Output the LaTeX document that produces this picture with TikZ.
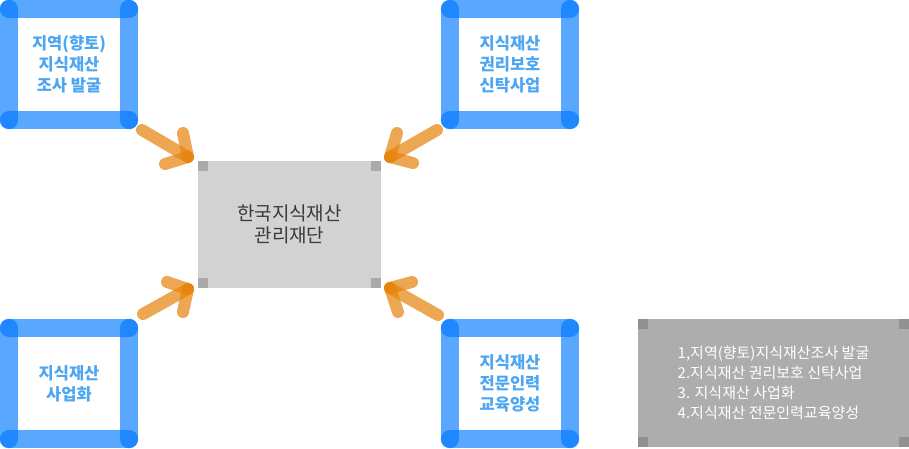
\documentclass[tikz,border=0pt]{standalone}
\usepackage{fontspec}
\newfontfamily\kr{Noto Sans CJK KR}
\definecolor{frameblue}{RGB}{0,120,255}
\definecolor{arroworange}{RGB}{230,130,10}
\definecolor{labelblue}{RGB}{76,166,242}
\definecolor{hubgray}{RGB}{210,210,210}
\definecolor{hubtab}{RGB}{170,170,170}
\definecolor{notegray}{RGB}{173,173,173}
\definecolor{notetab}{RGB}{145,145,145}
\definecolor{hubtext}{RGB}{58,58,58}
\begin{document}
\begin{tikzpicture}[x=1pt, y=-1pt,
    frame/.style={draw=frameblue, draw opacity=0.65, line width=18pt, line cap=round},
    topic/.style={minimum width=120pt, minimum height=111pt, inner sep=0pt, align=center,
      text=labelblue, font=\kr\bfseries\fontsize{16.5}{21}\selectfont},
    pointer/.style={draw=arroworange, draw opacity=0.7, line width=12pt, line cap=round}]
  \useasboundingbox (0,0) rectangle (909,449);
  % the four tasks
  \node[topic] (survey) at (69,64.5) {지역(향토)\\지식재산\\조사 발굴};
  \node[topic] (trust) at (510,64.5) {지식재산\\권리보호\\신탁사업};
  \node[topic] (biz) at (69,383.5) {지식재산\\사업화};
  \node[topic] (edu) at (510,383.5) {지식재산\\전문인력\\교육양성};
  \foreach \t in {survey, trust, biz, edu}
    \foreach \a/\b in {north west/north east, north east/south east, south east/south west, south west/north west}
      \draw[frame] (\t.\a) -- (\t.\b);
  % centre and legend
  \node[fill=hubgray, minimum width=183pt, minimum height=127pt, inner sep=0pt, align=center,
    text=hubtext, font=\kr\fontsize{19}{22.5}\selectfont] (hub) at (289.5,224.5) {한국지식재산\\관리재단};
  \node[fill=notegray, minimum width=271pt, minimum height=128pt, inner sep=0pt, align=left,
    text=white, font=\kr\fontsize{15}{20}\selectfont] (note) at (773.5,383)
    {1,지역(향토)지식재산조사 발굴\\2.지식재산 권리보호 신탁사업\\3. 지식재산 사업화\\4.지식재산 전문인력교육양성};
  \foreach \c/\col in {hub/hubtab, note/notetab} {
    \fill[\col] (\c.north west) rectangle ++(10,10);
    \fill[\col] (\c.north east) rectangle ++(-10,10);
    \fill[\col] (\c.south west) rectangle ++(10,-10);
    \fill[\col] (\c.south east) rectangle ++(-10,-10);
  }
  % arrows
  \coordinate (tail1) at (142,130);
  \coordinate (tip1) at (188,157);
  \coordinate (wing1a) at (183,133);
  \coordinate (wing1b) at (165,164);
  \coordinate (tail2) at (143,314);
  \coordinate (tip2) at (188,289);
  \coordinate (wing2a) at (167,282);
  \coordinate (wing2b) at (183,312);
  \coordinate (tail3) at (437,130);
  \coordinate (tip3) at (390,157);
  \coordinate (wing3a) at (397,133);
  \coordinate (wing3b) at (413,163);
  \coordinate (tail4) at (438,315);
  \coordinate (tip4) at (390,288);
  \coordinate (wing4a) at (412,282);
  \coordinate (wing4b) at (398,312);
  \foreach \i in {1,...,4} {
    \draw[pointer] (tail\i) -- (tip\i);
    \draw[pointer] (wing\i a) -- (tip\i);
    \draw[pointer] (wing\i b) -- (tip\i);
  }
\end{tikzpicture}
\end{document}
